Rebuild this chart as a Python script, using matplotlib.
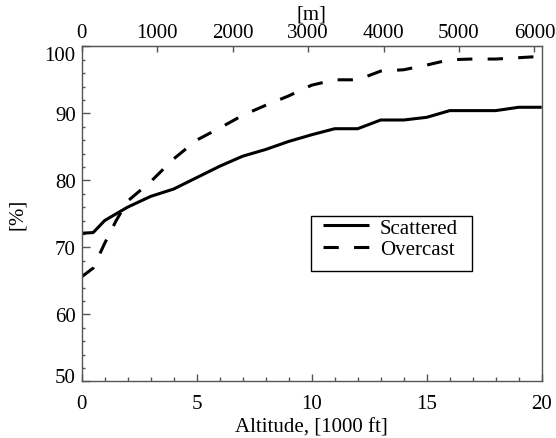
import matplotlib
matplotlib.use("Agg")
import matplotlib.pyplot as plt
import matplotlib.transforms as mtrans
from matplotlib.patches import Rectangle

# ---- data ----
alt_scattered = [0, 0.5, 1, 2, 3, 4, 5, 6, 7, 8, 9, 10, 11, 12, 13, 14, 15, 16, 17, 18, 19, 20]
scattered = [72.1, 72.2, 74.0, 76.0, 77.6, 78.7, 80.4, 82.1, 83.6, 84.6, 85.8, 86.8,
             87.7, 87.7, 89.0, 89.0, 89.4, 90.4, 90.4, 90.4, 90.9, 90.9]
alt_overcast = [0, 0.5, 1, 1.5, 2, 3, 4, 5, 6, 7, 8, 9, 10, 11, 12, 13, 14, 15, 16, 17, 18, 19, 20]
overcast = [65.6, 66.9, 70.6, 74.0, 76.9, 79.8, 83.2, 86.0, 87.8, 89.7, 91.2, 92.6, 94.2,
            95.0, 95.0, 96.3, 96.5, 97.2, 98.0, 98.1, 98.1, 98.3, 98.5]
x_ticks = [0, 5, 10, 15, 20]
y_ticks = [50, 60, 70, 80, 90, 100]
m_ticks = [0, 1000, 2000, 3000, 4000, 5000, 6000]
series_labels = ["Scattered", "Overcast"]

plt.rcParams['font.family'] = ['Liberation Serif', 'DejaVu Serif']
FS = 15
SPC = '#555555'

W, H = 556, 439
fig = plt.figure(figsize=(W / 100, H / 100), dpi=100)
L, R, T, B = 81.7, 541.7, 47.3, 382.3
ax = fig.add_axes([L / W, (H - B) / H, (R - L) / W, (B - T) / H])

lw = 2.2
ax.plot(alt_scattered, scattered, color='black', lw=lw, solid_capstyle='butt',
        solid_joinstyle='round', label=series_labels[0])
ax.plot(alt_overcast, overcast, color='black', lw=lw, dashes=(5, 5),
        dash_capstyle='butt', label=series_labels[1])

ax.set_xlim(0, 20)
ax.set_ylim(50, 100)
ax.set_xticks(x_ticks)
ax.set_xticks(range(0, 21), minor=True)
ax.set_yticks(y_ticks)
ax.set_yticks(range(50, 101, 2), minor=True)

for s in ax.spines.values():
    s.set_color(SPC)
    s.set_linewidth(1.0)

ax.tick_params(axis='both', which='both', direction='in', color=SPC, width=1.0,
               labelsize=FS, top=False, right=False)
ax.tick_params(axis='x', which='major', length=5.4, pad=9.5)
ax.tick_params(axis='x', which='minor', length=2.6)
ax.tick_params(axis='y', which='major', length=5.6, pad=4.3)
ax.tick_params(axis='y', which='minor', length=2.4)

ax.set_xlabel("Altitude, [1000 ft]", fontsize=FS, labelpad=3)
ax.set_ylabel("[%]", fontsize=FS, labelpad=13)

# top axis in metres
sec = ax.secondary_xaxis('top', functions=(lambda k: k * 304.8, lambda m: m / 304.8))
sec.set_xticks(m_ticks)
sec.tick_params(axis='x', which='major', direction='in', length=4.4, width=1.0,
                color=SPC, labelsize=FS, pad=3)
sec.tick_params(axis='x', which='minor', length=0)
sec.spines['top'].set_color(SPC)
sec.set_xlabel("[m]", fontsize=FS, labelpad=3.2)

# shift the end y tick labels inward
yt = ax.yaxis.get_major_ticks()
for tick, dy in ((yt[0], 6.3), (yt[-1], -6.7)):
    tick.label1.set_transform(tick.label1.get_transform() +
                              mtrans.ScaledTranslation(0, dy / 100, fig.dpi_scale_trans))

# legend
lx0, lx1, ly0, ly1 = 311, 472.3, 216.7, 271.7
ax.add_patch(Rectangle(((lx0 - L) / (R - L), (B - ly1) / (B - T)),
                       (lx1 - lx0) / (R - L), (ly1 - ly0) / (B - T),
                       transform=ax.transAxes, fill=False, edgecolor='black',
                       lw=1.0, zorder=5))
leg = ax.legend(loc='upper left', bbox_to_anchor=((322.7 - L) / (R - L), (B - 219.0) / (B - T)),
                borderaxespad=0, borderpad=0, frameon=False, fontsize=FS,
                handlelength=2.2, handletextpad=0.55, labelspacing=0.08)

fig.savefig("out.png", dpi=100)
